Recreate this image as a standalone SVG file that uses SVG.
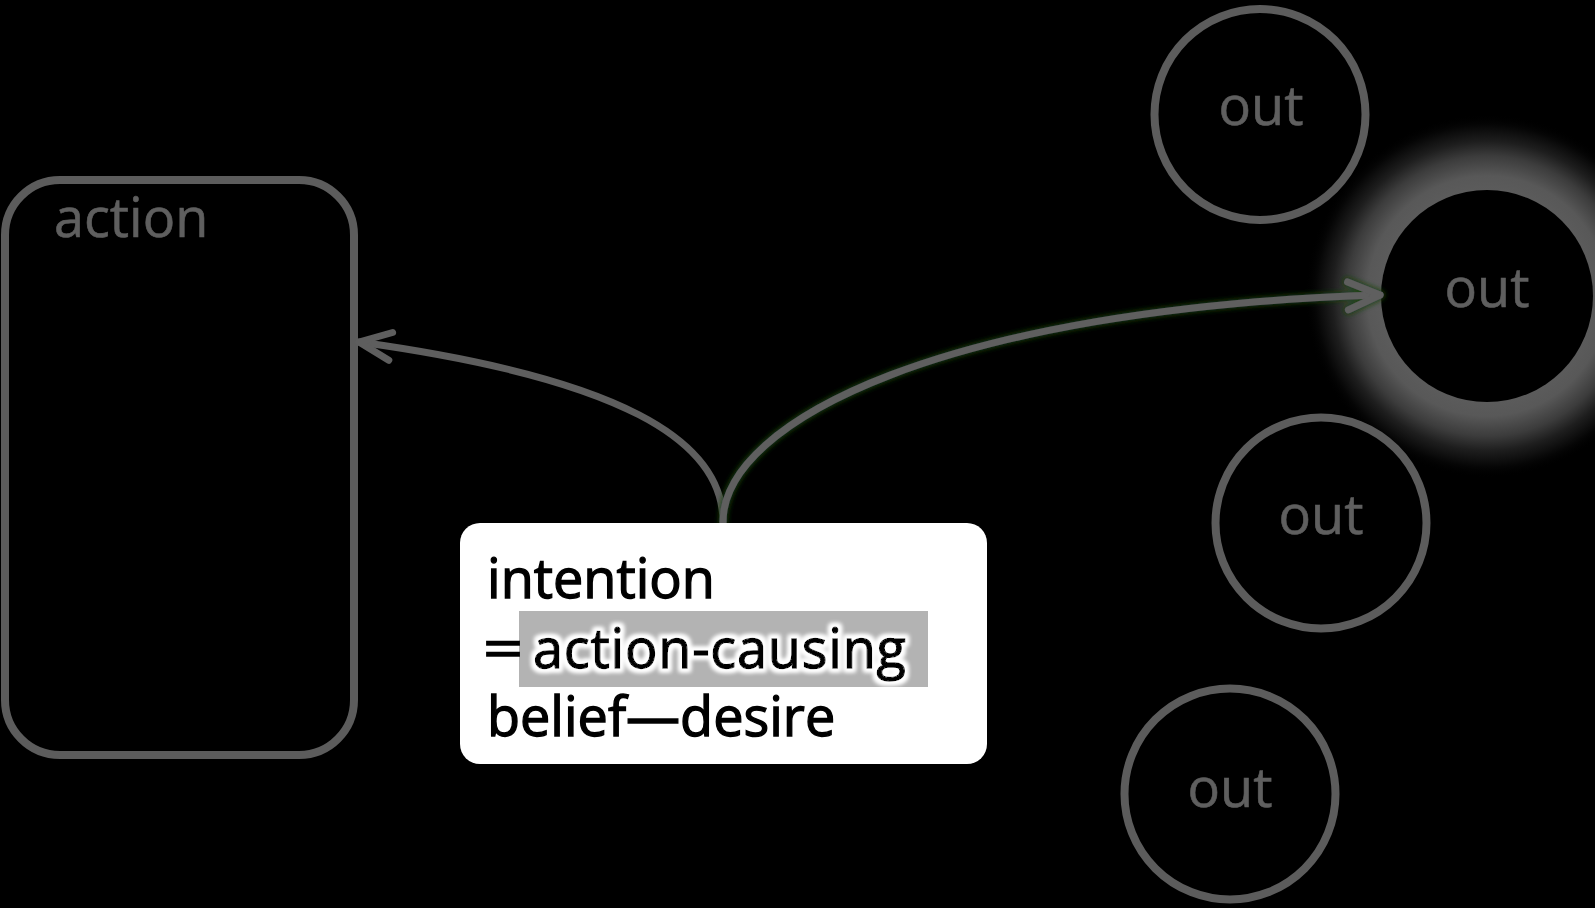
<svg xmlns="http://www.w3.org/2000/svg" width="1595" height="908" viewBox="0 0 1595 908">
  <defs>
    <style>
      .lbl { font-family: "Open Sans", "Liberation Sans", sans-serif; font-size: 54px; fill: #5f5f5f; stroke: #5f5f5f; stroke-width: 0.6; }
      .dark { font-family: "Open Sans", "Liberation Sans", sans-serif; font-size: 54px; fill: #000; stroke: #000; stroke-width: 1.3; }
      .ring { fill: #000; stroke: #5c5c5c; stroke-width: 8; }
      .conn { fill: none; stroke: #5e5e5e; stroke-width: 7; stroke-linecap: round; }
    </style>
    <marker id="arrow" markerUnits="userSpaceOnUse" markerWidth="50" markerHeight="50" refX="0" refY="0" viewBox="-40 -25 50 50" orient="auto" overflow="visible">
      <path d="M-32,-14 L0,0 L-32,14" fill="none" stroke="#5e5e5e" stroke-width="7" stroke-linecap="round" stroke-linejoin="round"/>
    </marker>
    <radialGradient id="glowGrad" cx="1487" cy="296" r="182" gradientUnits="userSpaceOnUse">
      <stop offset="0.56" stop-color="#5c5c5c"/>
      <stop offset="0.66" stop-color="#585858"/>
      <stop offset="0.77" stop-color="#3c3c3c"/>
      <stop offset="0.85" stop-color="#1e1e1e"/>
      <stop offset="0.94" stop-color="#060606"/>
      <stop offset="1" stop-color="#000" stop-opacity="0"/>
    </radialGradient>
    <filter id="halo" x="-10%" y="-40%" width="120%" height="180%">
      <feMorphology in="SourceAlpha" operator="dilate" radius="3" result="d"/>
      <feGaussianBlur in="d" stdDeviation="2.2" result="b"/>
      <feFlood flood-color="#ffffff"/>
      <feComposite in2="b" operator="in" result="g"/>
      <feMerge>
        <feMergeNode in="g"/>
        <feMergeNode in="g"/>
        <feMergeNode in="SourceGraphic"/>
      </feMerge>
    </filter>
    <filter id="greenGlow" x="-10%" y="-20%" width="120%" height="140%">
      <feMorphology in="SourceAlpha" operator="dilate" radius="1" result="d"/>
      <feGaussianBlur in="d" stdDeviation="2.5" result="b"/>
      <feFlood flood-color="#17400f" flood-opacity="0.9"/>
      <feComposite in2="b" operator="in" result="g"/>
      <feMerge>
        <feMergeNode in="g"/>
        <feMergeNode in="SourceGraphic"/>
      </feMerge>
    </filter>
  </defs>

  <rect x="0" y="0" width="1595" height="908" fill="#000"/>

  <g id="node-action">
    <rect x="5" y="180" width="349" height="575" rx="55" ry="55" fill="#000" stroke="#5c5c5c" stroke-width="8"/>
    <text class="lbl" x="54" y="237">action</text>
  </g>

  <g id="node-out1">
    <circle class="ring" cx="1260" cy="114.5" r="105.5"/>
    <text class="lbl" x="1261" y="125" text-anchor="middle">out</text>
  </g>

  <g id="node-out2">
    <circle cx="1487" cy="296" r="182" fill="url(#glowGrad)"/>
    <circle cx="1487" cy="296" r="106" fill="#000"/>
    <text class="lbl" x="1487" y="307" text-anchor="middle">out</text>
  </g>

  <g id="node-out3">
    <circle class="ring" cx="1321" cy="523" r="105.5"/>
    <text class="lbl" x="1321" y="534" text-anchor="middle">out</text>
  </g>

  <g id="node-out4">
    <circle class="ring" cx="1230" cy="794" r="105.5"/>
    <text class="lbl" x="1230" y="807" text-anchor="middle">out</text>
  </g>

  <g id="connectors">
    <path class="conn" d="M723,522 C723,440 620,378 359,342" marker-end="url(#arrow)"/>
    <g filter="url(#greenGlow)">
      <path class="conn" d="M723,522 C723,420 950,308 1380,295" marker-end="url(#arrow)"/>
    </g>
  </g>

  <g id="node-intention">
    <rect x="460" y="523" width="527" height="241" rx="20" ry="20" fill="#fff"/>
    <rect x="519" y="611" width="409" height="76" fill="#b3b3b3"/>
    <text class="dark" x="487" y="598">intention</text>
    <text class="dark" transform="translate(483,668) scale(1.3,1)" x="0" y="0">=</text>
    <text class="dark" x="533" y="668" letter-spacing="0.8" filter="url(#halo)">action-causing</text>
    <text class="dark" x="487" y="736">belief—desire</text>
  </g>
</svg>
